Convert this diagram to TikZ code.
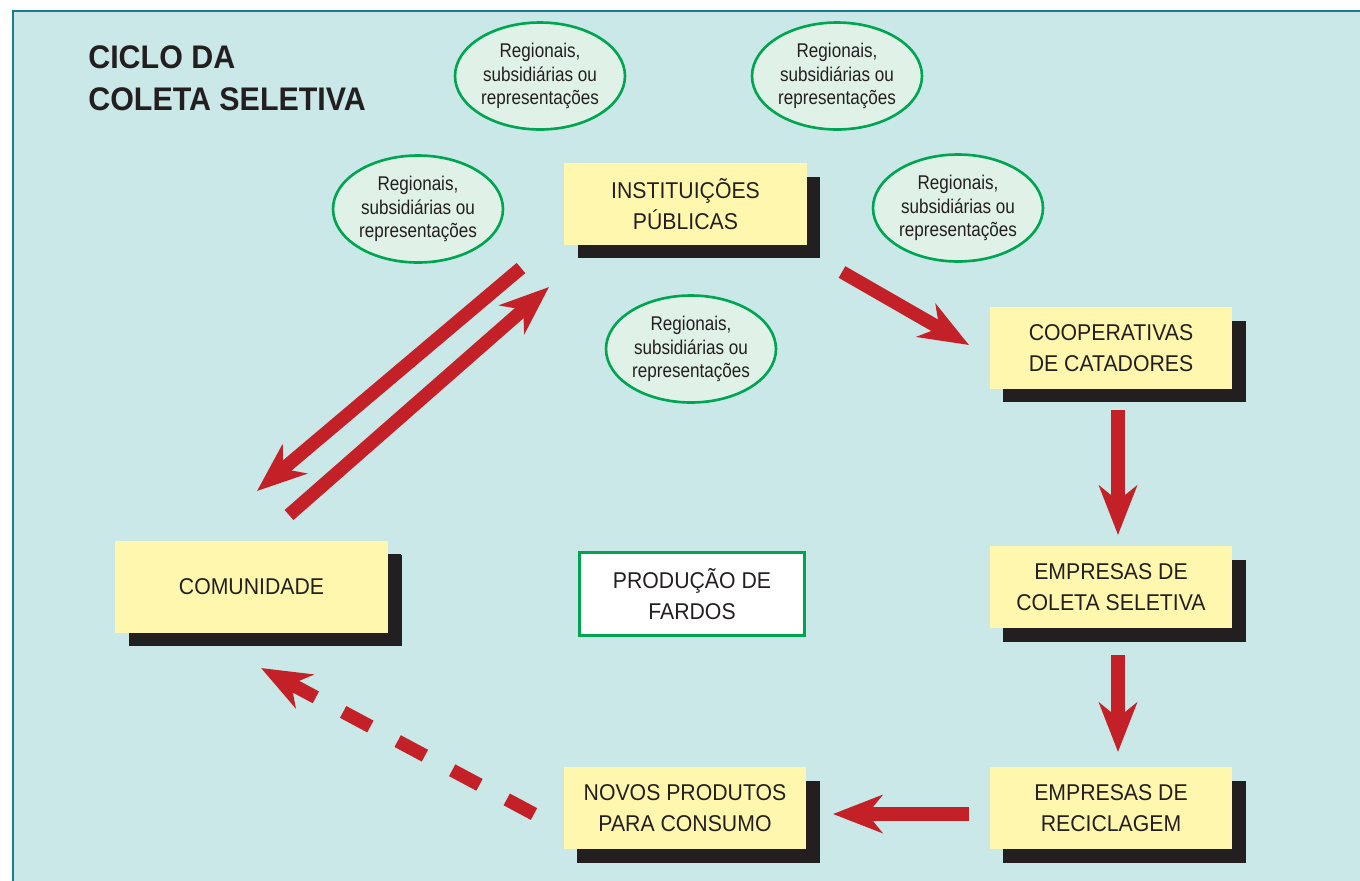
\documentclass[tikz,border=0pt]{standalone}
\usepackage{fontspec}
\setmainfont[FakeStretch=0.93]{Liberation Sans}
\newfontfamily\estreita[FakeStretch=0.86]{Liberation Sans}
\usetikzlibrary{shapes.geometric,shadows,arrows.meta}
\definecolor{fundo}{RGB}{202,232,232}
\definecolor{moldura}{RGB}{27,120,152}
\definecolor{amarelo}{RGB}{255,247,174}
\definecolor{sombra}{RGB}{35,31,32}
\definecolor{verde}{RGB}{0,165,81}
\definecolor{verdeclaro}{RGB}{224,242,232}
\definecolor{vermelho}{RGB}{196,32,40}
\begin{document}
\begin{tikzpicture}[x=0.02cm, y=-0.02cm,
	caixa/.style={ fill=amarelo, text=sombra, inner sep=0pt, align=center, minimum width=4.86cm, minimum height=1.64cm, font=\fontsize{13}{17.6}\selectfont, drop shadow={shadow xshift=0.27cm, shadow yshift=-0.27cm, fill=sombra, opacity=1} },
	balao/.style={ ellipse, draw=verde, line width=1.5pt, fill=verdeclaro, text=sombra, inner sep=0pt, minimum width=3.4cm, minimum height=2.14cm, align=center, font=\estreita\fontsize{11.3}{13.6}\selectfont },
	seta/.style={ draw=vermelho, line width=7.6pt, -{Stealth[length=28pt,width=21.5pt,inset=8.5pt]} }
]
	\useasboundingbox (0,0) rectangle (1360,880);
	\fill[white] (0,0) rectangle (1360,880);
	\draw[fill=fundo, draw=moldura, line width=1.4pt] (13,11) rectangle (1380,900);
	\node at (88,68) (titulo1) [anchor=base west, inner sep=0pt, text=sombra, font=\bfseries\fontsize{18.6}{24}\selectfont] {CICLO DA};
	\node at (88,110) (titulo2) [anchor=base west, inner sep=0pt, text=sombra, font=\bfseries\fontsize{18.6}{24}\selectfont] {COLETA SELETIVA};
	\node at (540,76) (b1) [balao] {Regionais,\\subsidiárias ou\\representações};
	\node at (837,76) (b2) [balao] {Regionais,\\subsidiárias ou\\representações};
	\node at (418,209) (b3) [balao] {Regionais,\\subsidiárias ou\\representações};
	\node at (958,208) (b4) [balao] {Regionais,\\subsidiárias ou\\representações};
	\node at (691,349) (b5) [balao] {Regionais,\\subsidiárias ou\\representações};
	\node at (685.5,204) (inst) [caixa] {INSTITUIÇÕES\\PÚBLICAS};
	\node at (1111,348) (coop) [caixa] {COOPERATIVAS\\DE CATADORES};
	\node at (1111,587) (coleta) [caixa] {EMPRESAS DE\\COLETA SELETIVA};
	\node at (1111,808) (recic) [caixa] {EMPRESAS DE\\RECICLAGEM};
	\node at (685,808) (novos) [caixa] {NOVOS PRODUTOS\\PARA CONSUMO};
	\node at (251.5,586.5) (comun) [caixa, minimum width=5.46cm, minimum height=1.84cm, drop shadow={shadow xshift=0.28cm, shadow yshift=-0.28cm, fill=sombra, opacity=1}] {COMUNIDADE};
	\node at (692,594) (fardos) [draw=verde, line width=1.4pt, fill=white, text=sombra, inner sep=0pt, align=center, minimum width=4.5cm, minimum height=1.66cm, font=\fontsize{13}{17.6}\selectfont] {PRODUÇÃO DE\\FARDOS};
	\coordinate (p1) at (521,268);
	\coordinate (p2) at (257,491);
	\coordinate (p3) at (289,515);
	\coordinate (p4) at (549,287);
	\coordinate (p5) at (842,272);
	\coordinate (p6) at (969,345);
	\coordinate (p7) at (1118,410);
	\coordinate (p8) at (1118,535);
	\coordinate (p9) at (1118,655);
	\coordinate (p10) at (1118,752);
	\coordinate (p11) at (969,814);
	\coordinate (p12) at (833,814);
	\coordinate (p13) at (534,814);
	\coordinate (p14) at (261,668);
	\draw[seta] (p1) -- (p2);
	\draw[seta] (p3) -- (p4);
	\draw[seta] (p5) -- (p6);
	\draw[seta] (p7) -- (p8);
	\draw[seta] (p9) -- (p10);
	\draw[seta] (p11) -- (p12);
	\draw[seta, dash pattern=on 17.6pt off 17.6pt] (p13) -- (p14);
\end{tikzpicture}
\end{document}
